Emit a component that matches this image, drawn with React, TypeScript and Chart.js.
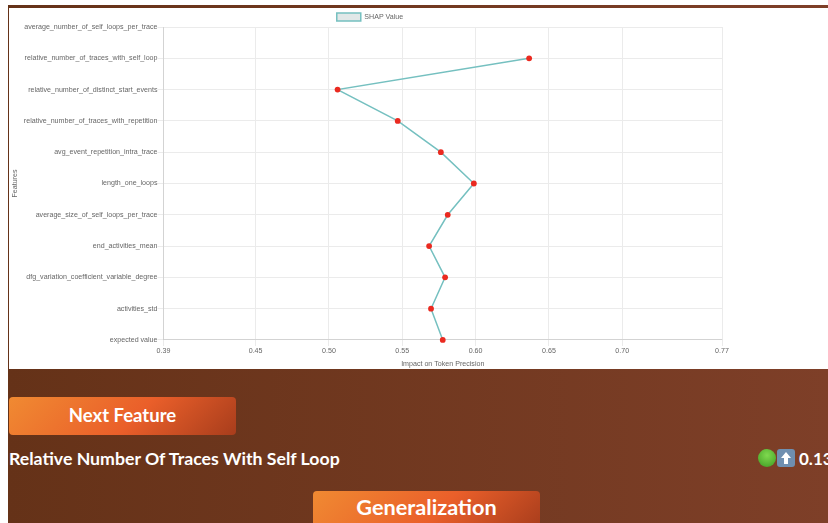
import React, { useEffect, useRef } from "react";
import { Chart, registerables } from "chart.js";

Chart.register(...registerables);

const features = [
  "average_number_of_self_loops_per_trace",
  "relative_number_of_traces_with_self_loop",
  "relative_number_of_distinct_start_events",
  "relative_number_of_traces_with_repetition",
  "avg_event_repetition_intra_trace",
  "length_one_loops",
  "average_size_of_self_loops_per_trace",
  "end_activities_mean",
  "dfg_variation_coefficient_variable_degree",
  "activities_std",
  "expected value",
];
const shapValues = [null, 0.6365, 0.5059, 0.5469, 0.5763, 0.5988, 0.581, 0.5683, 0.5792, 0.5696, 0.5776];
const axisMin = 0.3872;
const axisMax = 0.768;

const font = "'Liberation Sans', Helvetica, Arial, sans-serif";
const uiFont = "Lato, 'Noto Sans', sans-serif";
const fs = 7.1;

function Btn({ left, top, size, label, lift }: { left: number; top: number; size: number; label: string; lift: number }) {
  return (
    <div
      style={{
        position: "absolute", left, top, width: 227, height: 38, borderRadius: 4, boxSizing: "border-box", paddingBottom: lift,
        background: "linear-gradient(135deg,#f08a32 0%,#ea5f2a 55%,#a83d1c 100%)",
        color: "#fff", fontFamily: uiFont, fontWeight: 700, fontSize: size,
        display: "flex", alignItems: "center", justifyContent: "center",
      }}
    >
      {label}
    </div>
  );
}

const legendTrim = {
  id: "legendTrim",
  beforeInit(chart: any) {
    const orig = chart.legend.fit;
    chart.legend.fit = function () {
      orig.call(this);
      this.height -= 4;
    };
  },
};

export default function App() {
  const ref = useRef<HTMLCanvasElement>(null);
  useEffect(() => {
    const chart = new Chart(ref.current!, {
      type: "line",
      plugins: [legendTrim],
      data: {
        labels: features,
        datasets: [{
          label: "SHAP Value",
          data: shapValues as any,
          borderColor: "rgb(117,192,192)",
          backgroundColor: "rgba(75,120,120,0.17)",
          borderWidth: 1.5,
          pointRadius: 2.9,
          pointBackgroundColor: "#ea2a20",
          pointBorderColor: "#ea2a20",
          pointBorderWidth: 0,
          tension: 0,
        }],
      },
      options: {
        indexAxis: "y",
        animation: false,
        responsive: false,
        layout: { padding: { right: 0, bottom: 1 } },
        plugins: {
          tooltip: { enabled: false },
          legend: {
            display: true,
            labels: { boxWidth: 24, boxHeight: 8, font: { size: fs, family: font }, color: "#666", padding: 5 },
          },
        },
        scales: {
          x: {
            type: "linear", min: axisMin, max: axisMax,
            afterFit: (s: any) => { s.paddingRight = 9; },
            title: { display: true, text: "Impact on Token Precision", font: { size: fs, family: font }, color: "#666", padding: { top: 3, bottom: 0 } },
            ticks: { stepSize: 0.05, autoSkip: false, maxRotation: 0, font: { size: fs, family: font }, color: "#666", padding: 1, callback: (v: any) => Number(v).toFixed(2) },
            grid: { color: "#ebebeb", lineWidth: 1, tickLength: 6 },
          },
          y: {
            type: "category",
            afterFit: (s: any) => { s.width = 154.5; },
            title: { display: true, text: "Features", font: { size: fs, family: font }, color: "#666", padding: { top: 2, bottom: 2 } },
            ticks: { autoSkip: false, font: { size: fs, family: font }, color: "#666", padding: 0 },
            grid: { color: "#ebebeb", lineWidth: 1, tickLength: 6 },
          },
        },
      },
    });
    return () => chart.destroy();
  }, []);

  return (
    <div style={{ position: "fixed", inset: 0, background: "#fff", overflow: "hidden" }}>
      <div style={{ position: "absolute", left: 8, top: 5, right: 0, bottom: 0, background: "linear-gradient(90deg,#653218 0%,#7e3f28 100%)" }} />
      <div style={{ position: "absolute", left: 9, top: 8, right: 0, height: 361, background: "#fff" }} />
      <canvas ref={ref} width={722} height={361} style={{ position: "absolute", left: 9, top: 8, display: "block" }} />
      <Btn left={9} top={397} size={18.5} label="Next Feature" lift={2} />
      <div style={{ position: "absolute", left: 9, top: 448, color: "#fff", fontFamily: uiFont, fontWeight: 700, fontSize: 17.7, whiteSpace: "nowrap", lineHeight: "22px" }}>
        Relative Number Of Traces With Self Loop
      </div>
      <div style={{ position: "absolute", left: 758, top: 449, width: 18, height: 18, borderRadius: 9, background: "radial-gradient(circle at 50% 35%,#7fd94f,#3f9a22)" }} />
      <div style={{ position: "absolute", left: 777, top: 449, width: 18, height: 18, borderRadius: 3, background: "#6f8fb0" }}>
        <svg width="18" height="18" viewBox="0 0 18 18"><path d="M9 3 L14 9 H11 V15 H7 V9 H4 Z" fill="#fff" /></svg>
      </div>
      <div style={{ position: "absolute", left: 799, top: 448, color: "#fff", fontFamily: uiFont, fontWeight: 700, fontSize: 17, lineHeight: "22px", whiteSpace: "nowrap" }}>0.13</div>
      <Btn left={313} top={491} size={21.7} label="Generalization" lift={6} />
    </div>
  );
}
